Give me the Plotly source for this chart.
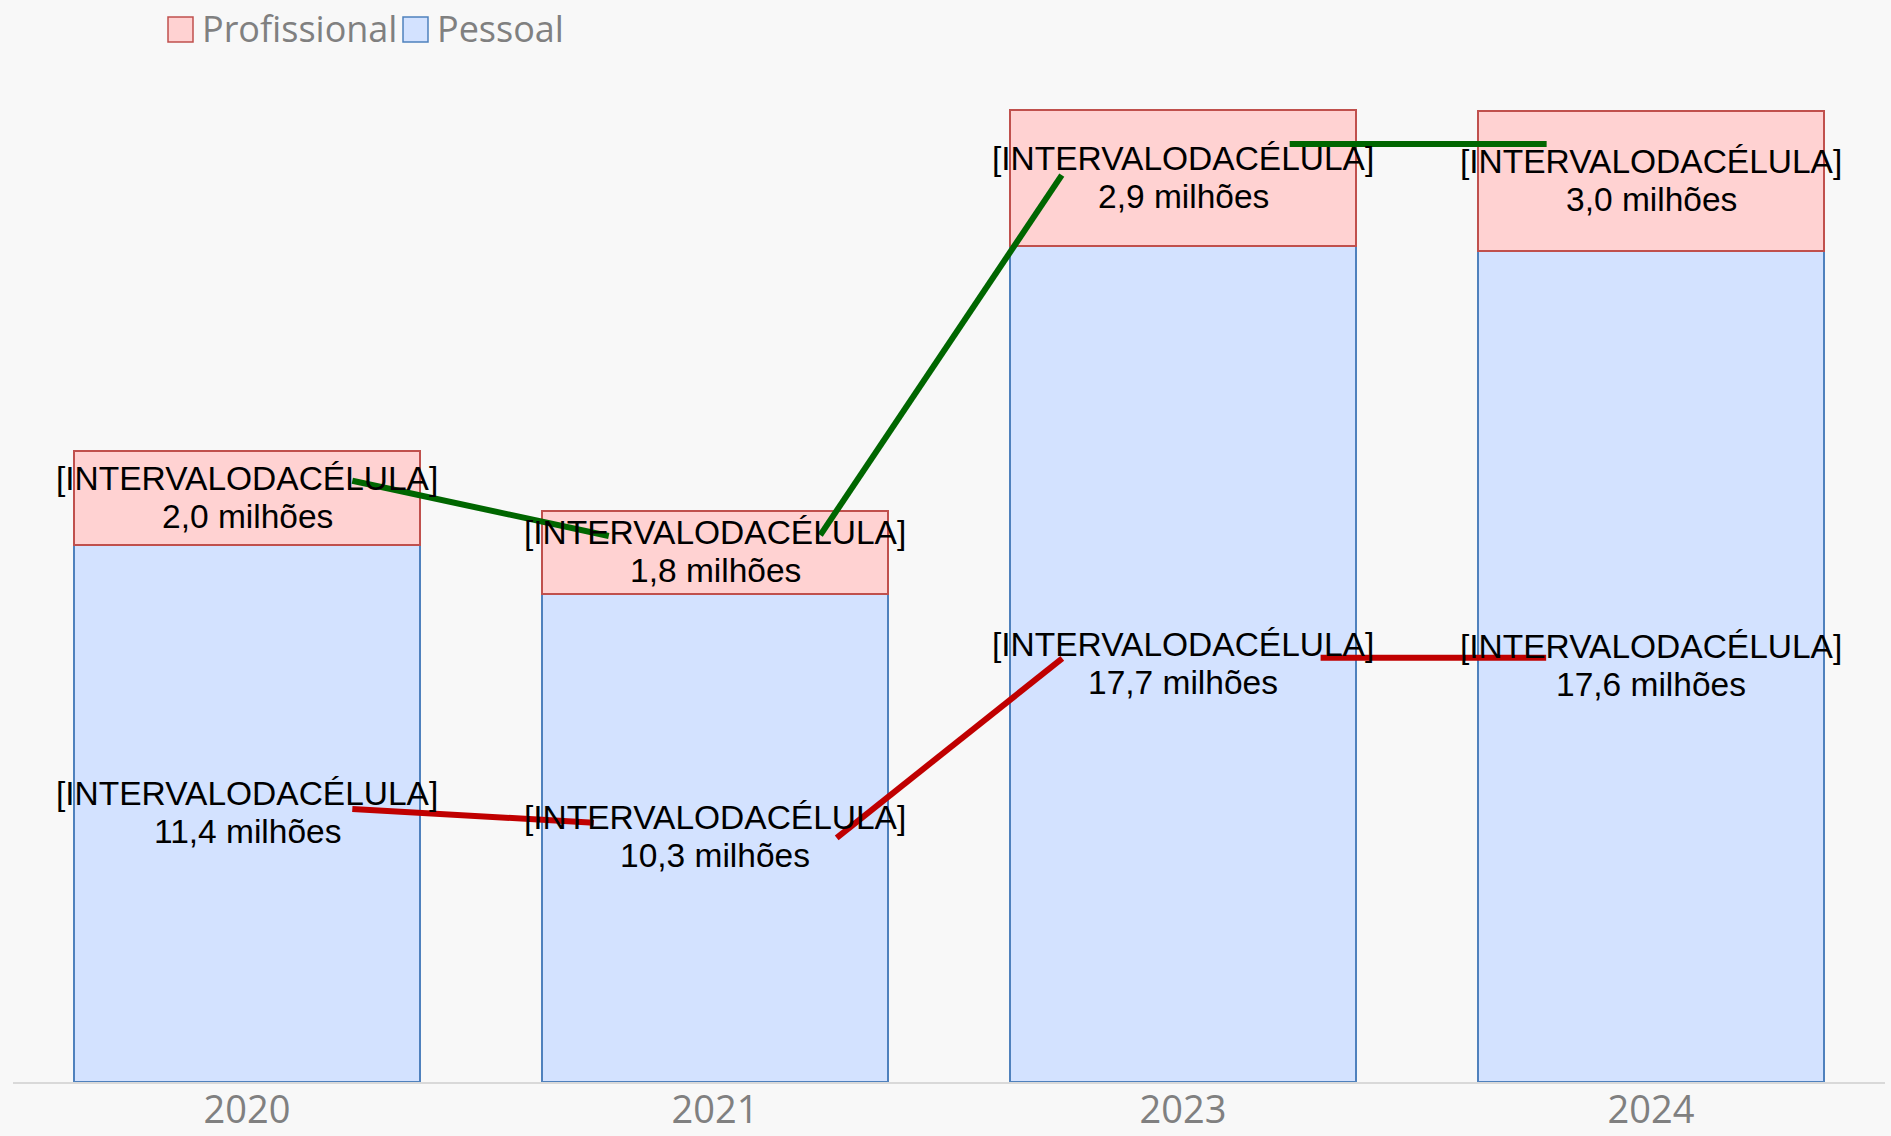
import plotly.graph_objects as go

# data (milhões)
anos = ["2020", "2021", "2023", "2024"]
pessoal = [11.36, 10.34, 17.69, 17.59]
profissional = [1.99, 1.76, 2.89, 2.96]
rotulo_celula = "[INTERVALODACÉLULA]"

# connector lines (x in category units, y in milhões); None breaks the segments
linha_verde_x = [0.225, 0.773, None, 1.225, 1.741, None, 2.228, 2.777]
linha_verde_y = [12.73, 11.56, None, 11.58, 19.20, None, 19.86, 19.86]
linha_vermelha_x = [0.225, 0.741, None, 1.260, 1.742, None, 2.294, 2.776]
linha_vermelha_y = [5.78, 5.49, None, 5.17, 8.97, None, 8.98, 8.98]

pos = list(range(len(anos)))


def fmt(v):
  return f"{v:.1f}".replace(".", ",") + " milhões"


fig = go.Figure()

fig.add_trace(go.Bar(
  x=pos, y=pessoal, name="Pessoal", width=0.741,
  marker=dict(color="#D3E2FF", line=dict(color="#4F81BD", width=2)),
  showlegend=False, hoverinfo="skip"
))
fig.add_trace(go.Bar(
  x=pos, y=profissional, name="Profissional", width=0.741,
  marker=dict(color="#FFD2D2", line=dict(color="#C0504D", width=2)),
  showlegend=False, hoverinfo="skip"
))

fig.add_trace(go.Scatter(
  x=linha_verde_x, y=linha_verde_y, mode="lines",
  line=dict(color="#006600", width=6), showlegend=False, hoverinfo="skip"
))
fig.add_trace(go.Scatter(
  x=linha_vermelha_x, y=linha_vermelha_y, mode="lines",
  line=dict(color="#C00000", width=6), showlegend=False, hoverinfo="skip"
))

# data labels, two lines each, centred in the segment
label_font = dict(family="Liberation Sans, Arial", size=33.5, color="#000000")
annotations = []
for i in pos:
  centros = [pessoal[i] / 2, pessoal[i] + profissional[i] / 2]
  valores = [pessoal[i], profissional[i]]
  for c, v in zip(centros, valores):
    annotations.append(dict(x=i, y=c, xref="x", yref="y", text=rotulo_celula,
                            showarrow=False, font=label_font, yshift=20))
    annotations.append(dict(x=i, y=c, xref="x", yref="y", text=fmt(v),
                            showarrow=False, font=label_font, yshift=-18))

# legend drawn by hand to match the big swatches
legend_font = dict(family="Open Sans", size=36, color="#808080")
plot_w = 1891 - 13 - 6
plot_h = 1082 - 50
def px_x(p):
  return (p - 13) / plot_w
def px_y(p):
  return (1082 - p) / plot_h

shapes = []
for x0, fill, edge, nome in [(168, "#FFD2D2", "#C0504D", "Profissional"),
                             (403, "#D3E2FF", "#4F81BD", "Pessoal")]:
  shapes.append(dict(type="rect", xref="paper", yref="paper",
                     x0=px_x(x0), x1=px_x(x0 + 25), y0=px_y(42), y1=px_y(17),
                     fillcolor=fill, line=dict(color=edge, width=1.5)))
  annotations.append(dict(x=px_x(x0 + 32), y=px_y(29), xref="paper", yref="paper",
                          xanchor="left", yanchor="middle", text=nome,
                          showarrow=False, font=legend_font))

fig.update_layout(
  barmode="stack",
  width=1891, height=1136,
  margin=dict(l=13, r=6, t=50, b=54),
  paper_bgcolor="#F8F8F8", plot_bgcolor="#F8F8F8",
  annotations=annotations, shapes=shapes,
  xaxis=dict(range=[-0.5, 3.5], tickvals=pos, ticktext=anos,
             showline=True, linecolor="#D9D9D9", linewidth=2,
             showgrid=False, zeroline=False, ticks="", automargin=False,
             layer="below traces", ticklabelstandoff=-7,
             tickfont=dict(family="Open Sans", size=38, color="#808080")),
  yaxis=dict(range=[0, 21.85], showticklabels=False, showgrid=False,
             zeroline=False, automargin=False),
)

fig.write_html("out.html", config={"displayModeBar": False},
               post_script="document.body.style.margin='0';")
